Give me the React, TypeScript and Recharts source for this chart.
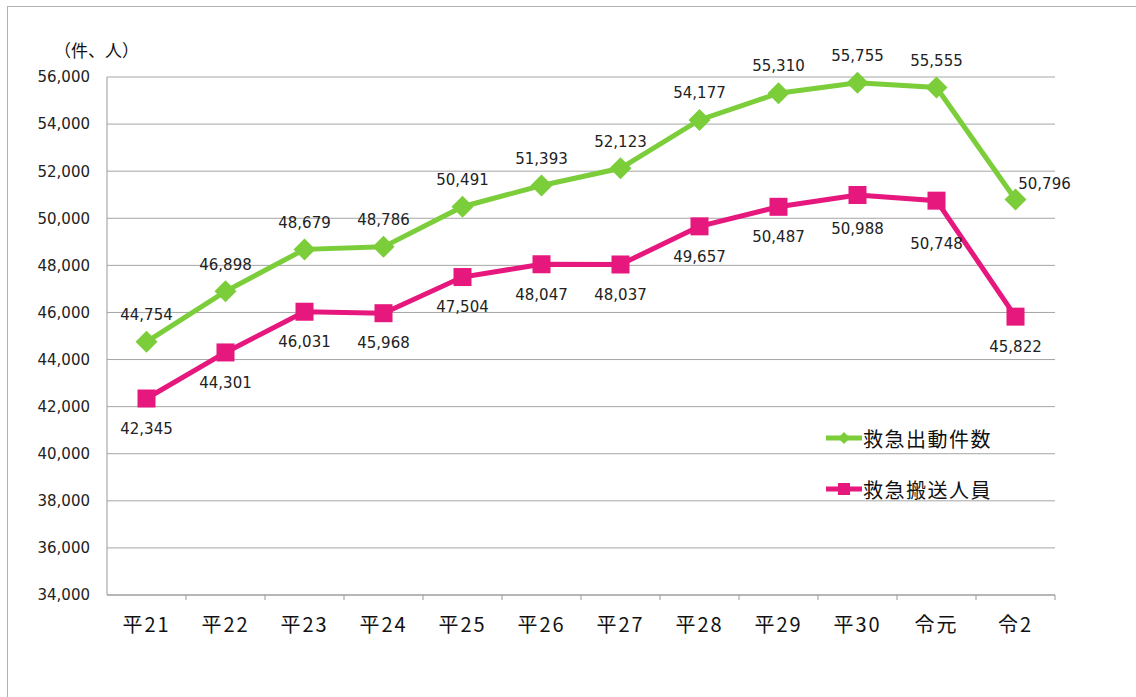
import { LineChart, Line, XAxis, YAxis, CartesianGrid, LabelList } from "recharts";

const years = ["平21", "平22", "平23", "平24", "平25", "平26", "平27", "平28", "平29", "平30", "令元", "令2"];
const dispatches = [44754, 46898, 48679, 48786, 50491, 51393, 52123, 54177, 55310, 55755, 55555, 50796];
const transported = [42345, 44301, 46031, 45968, 47504, 48047, 48037, 49657, 50487, 50988, 50748, 45822];
const yTicks = [34000, 36000, 38000, 40000, 42000, 44000, 46000, 48000, 50000, 52000, 54000, 56000];

const rows = years.map((year, i) => ({
  year,
  dispatches: dispatches[i],
  transported: transported[i],
}));

const GREEN = "#7ccd3a";
const PINK = "#e6177d";
const W = 1136;
const H = 697;
const xAxisHeight = 30;
const margin = { top: 77, right: 81, bottom: 102 - xAxisHeight, left: 0 };
const yAxisWidth = 107;
const halfBand = (W - margin.right - margin.left - yAxisWidth) / years.length / 2;
const fmt = (v: number) => v.toLocaleString("en-US");
const numFont = "'DejaVu Sans', Verdana, sans-serif";
const jpFont = "'Noto Sans CJK JP', sans-serif";

const Diamond = (props: any) => {
  const { cx, cy } = props;
  if (cx == null || cy == null) return null;
  const r = 11;
  return <polygon points={`${cx},${cy - r} ${cx + r},${cy} ${cx},${cy + r} ${cx - r},${cy}`} fill={GREEN} />;
};

const Square = (props: any) => {
  const { cx, cy } = props;
  if (cx == null || cy == null) return null;
  const s = 18;
  return <rect x={cx - s / 2} y={cy - s / 2} width={s} height={s} fill={PINK} />;
};

const GreenLabel = (props: any) => {
  const { x, y, value, index } = props;
  const last = index === years.length - 1;
  return (
    <text x={x + (last ? 29 : 0)} y={y + (last ? -16 : -27)} dy="0.35em" textAnchor="middle" fontSize={15} fontFamily={numFont} fill="#222">
      {fmt(value)}
    </text>
  );
};

const PinkLabel = (props: any) => {
  const { x, y, value, index } = props;
  const off = index === 10 ? 43 : index === 9 ? 34 : 30;
  return (
    <text x={x} y={y + off} dy="0.35em" textAnchor="middle" fontSize={15} fontFamily={numFont} fill="#222">
      {fmt(value)}
    </text>
  );
};

const CategoryTick = (props: any) => {
  const { x, y, payload } = props;
  return (
    <g>
      <line x1={x + halfBand} y1={y} x2={x + halfBand} y2={y + 5} stroke="#999" />
      <text x={x} y={y + 30} dy="0.35em" textAnchor="middle" fontSize={20} letterSpacing={2} fontFamily={jpFont} fill="#111">
        {payload.value}
      </text>
    </g>
  );
};

const legendItems = [
  { name: "救急出動件数", color: GREEN, shape: "diamond" },
  { name: "救急搬送人員", color: PINK, shape: "square" },
];

export default function App() {
  return (
    <div style={{ position: "absolute", left: 0, top: 0, width: W, height: H, background: "#fff", overflow: "hidden" }}>
      <div style={{ position: "absolute", left: 7, top: 6, width: 1300, height: 900, border: "1px solid #b0b0b0" }} />
      <div style={{ position: "absolute", left: 54, top: 37, fontSize: 17, fontFamily: jpFont, color: "#111" }}>（件、人）</div>
      <LineChart width={W} height={H} data={rows} margin={margin}>
        <CartesianGrid vertical={false} stroke="#a6a6a6" />
        <XAxis
          dataKey="year"
          scale="band"
          height={xAxisHeight}
          interval={0}
          axisLine={{ stroke: "#999" }}
          tickLine={false}
          tickSize={0}
          tickMargin={0}
          tick={<CategoryTick />}
        />
        <YAxis
          width={yAxisWidth}
          domain={[34000, 56000]}
          ticks={yTicks}
          interval={0}
          tickFormatter={fmt}
          axisLine={{ stroke: "#999" }}
          tickLine={false}
          tickSize={0}
          tickMargin={17}
          tick={{ fontSize: 15, fontFamily: numFont, fill: "#222" }}
        />
        <Line
          dataKey="transported"
          stroke={PINK}
          strokeWidth={5}
          dot={<Square />}
          activeDot={false}
          isAnimationActive={false}
        >
          <LabelList dataKey="transported" content={<PinkLabel />} />
        </Line>
        <Line
          dataKey="dispatches"
          stroke={GREEN}
          strokeWidth={5}
          dot={<Diamond />}
          activeDot={false}
          isAnimationActive={false}
        >
          <LabelList dataKey="dispatches" content={<GreenLabel />} />
        </Line>
      </LineChart>
      <div style={{ position: "absolute", left: 826, top: 423 }}>
        {legendItems.map((it) => (
          <div key={it.name} style={{ display: "flex", alignItems: "center", height: 30, marginBottom: 21 }}>
            <svg width={36} height={16}>
              <line x1={0} y1={8} x2={36} y2={8} stroke={it.color} strokeWidth={5} />
              {it.shape === "diamond" ? (
                <polygon points="18,2 24,8 18,14 12,8" fill={it.color} />
              ) : (
                <rect x={12} y={2} width={12} height={12} fill={it.color} />
              )}
            </svg>
            <span style={{ fontSize: 20, letterSpacing: 1.5, fontFamily: jpFont, color: "#111", marginLeft: 1 }}>{it.name}</span>
          </div>
        ))}
      </div>
    </div>
  );
}
